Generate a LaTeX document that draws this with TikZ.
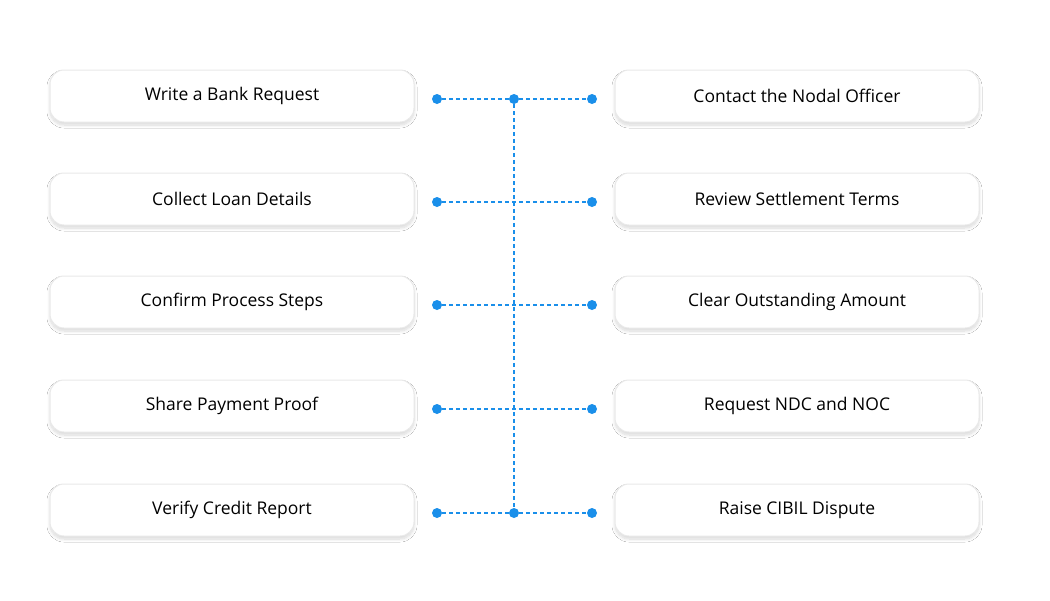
\documentclass[tikz,border=0pt]{standalone}
\usepackage{fontspec}
\setmainfont{Open Sans}
\usetikzlibrary{shadows.blur}
\definecolor{dotblue}{HTML}{1A8FEA}
\definecolor{bordergray}{HTML}{E9E9E9}
\begin{document}
\begin{tikzpicture}[x=1pt,y=-1pt,
  box/.style={draw=bordergray,line width=1pt,fill=white,rounded corners=14pt,minimum width=364pt,minimum height=52pt,font=\fontsize{17.5}{20}\selectfont,text=black,blur shadow={shadow xshift=0pt,shadow yshift=-3pt,shadow blur steps=8,shadow blur radius=3pt,shadow opacity=15}},
  dot/.style={circle,fill=dotblue,inner sep=0pt,minimum size=10pt},
  link/.style={dotblue,dashed,dash pattern=on 4pt off 3pt,line width=1.2pt}]
\fill[white] (0,0) rectangle (1050,600);
\foreach \i/\y/\l/\r in {1/96/Write a Bank Request/Contact the Nodal Officer,
  2/199/Collect Loan Details/Review Settlement Terms,
  3/302/Confirm Process Steps/Clear Outstanding Amount,
  4/406/Share Payment Proof/Request NDC and NOC,
  5/510/Verify Credit Report/Raise CIBIL Dispute}{
  \node[box] (L\i) at (232,\y) {\l};
  \node[box] (R\i) at (797,\y) {\r};
  \node[dot] (a\i) at (437,\y+3) {};
  \node[dot] (b\i) at (592,\y+3) {};
  \draw[link] (a\i) -- (b\i);
}
\node[dot] (top) at (514,99) {};
\node[dot] (bot) at (514,513) {};
\draw[link] (top) -- (bot);
\end{tikzpicture}
\end{document}
